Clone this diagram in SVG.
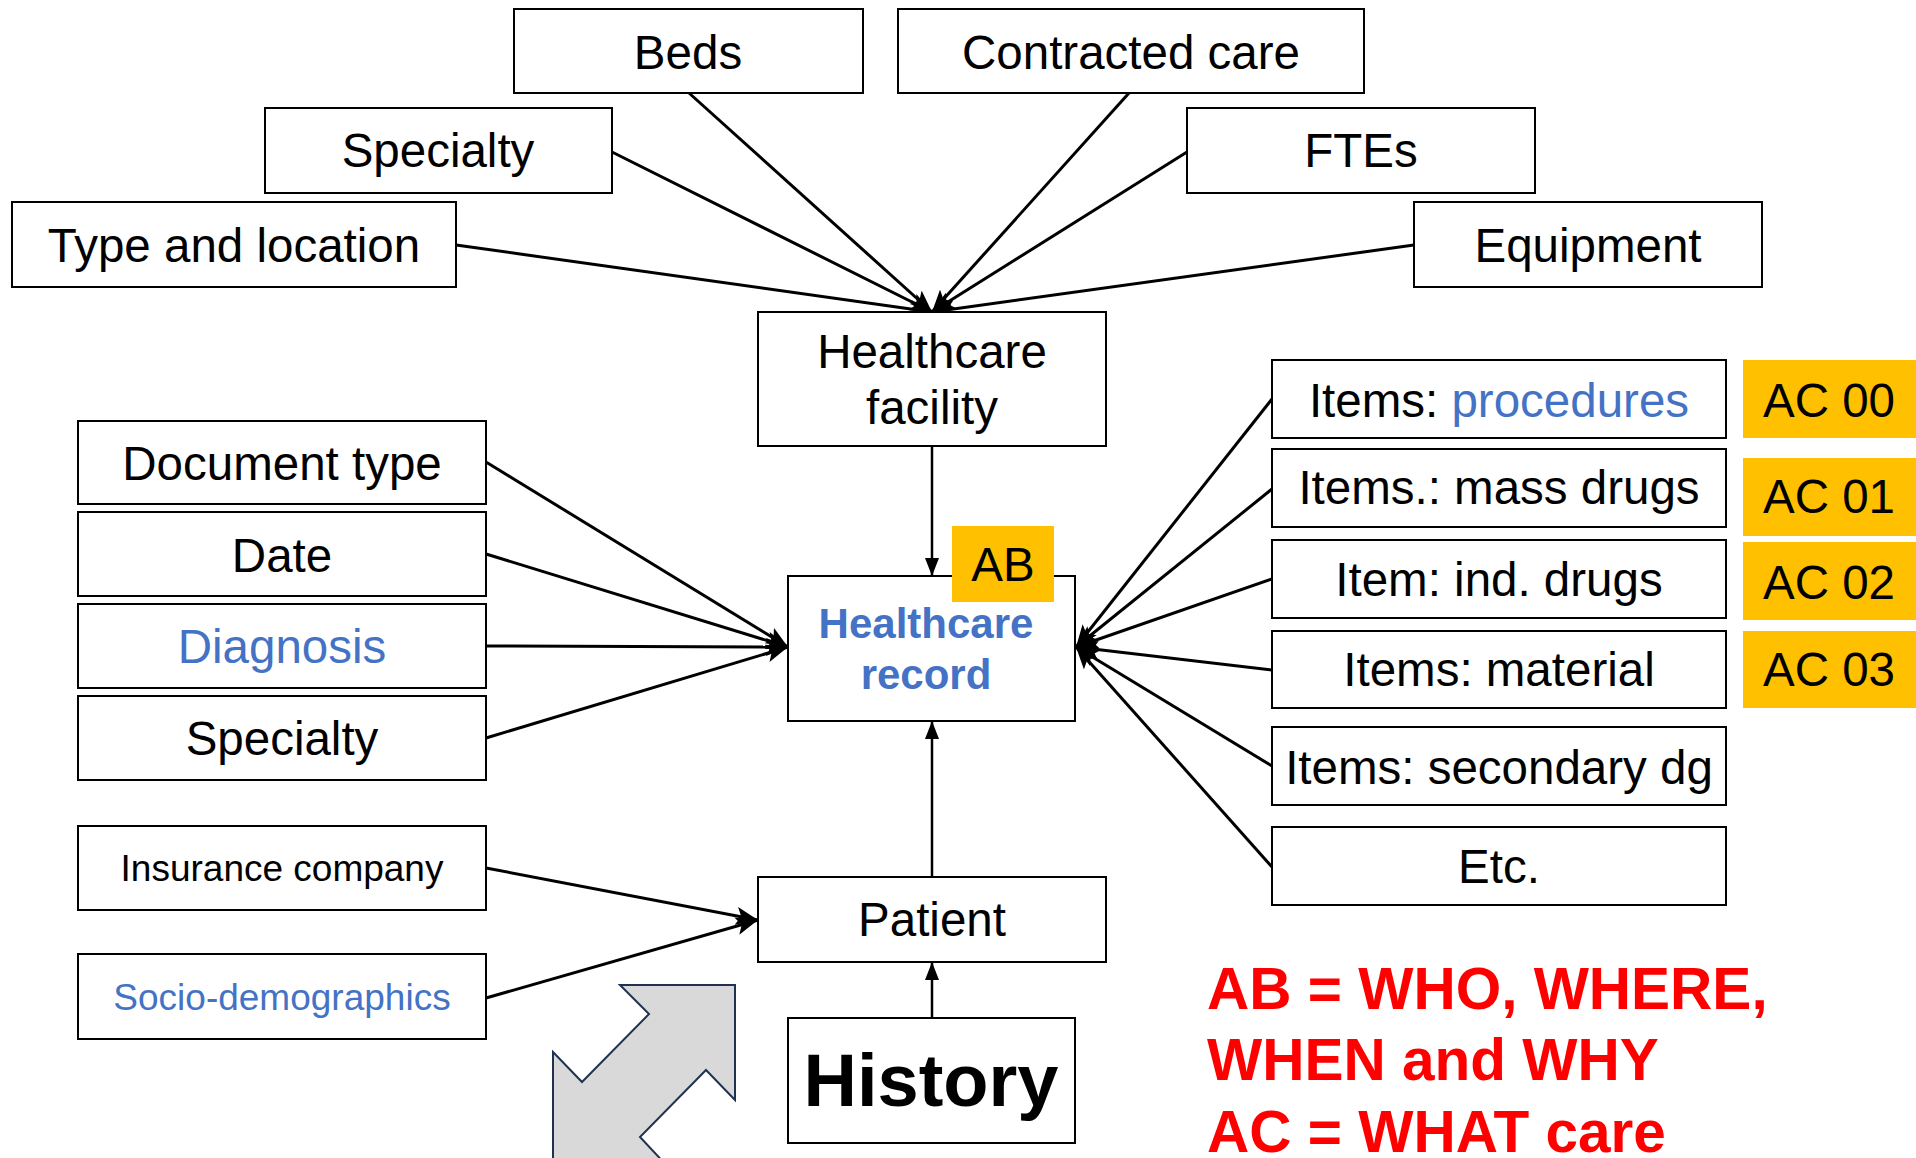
<svg xmlns="http://www.w3.org/2000/svg" width="1916" height="1158" viewBox="0 0 1916 1158">
<style>
.box{fill:#fff;stroke:#000;stroke-width:2}
.t{font-family:"Liberation Sans",Arial,sans-serif;font-size:47.5px;fill:#000;text-anchor:middle}
.s{font-size:37px}
.blue{fill:#4472c4}
.bold{font-weight:bold}
.ac{fill:#ffc000}
.red{font-family:"Liberation Sans",Arial,sans-serif;font-size:58.5px;font-weight:bold;fill:#ff0000}
.c{stroke:#000;stroke-width:3;fill:none;marker-end:url(#ah)}
.v{stroke:#000;stroke-width:2.5;fill:none;marker-end:url(#ahs)}
</style>
<defs>
<marker id="ah" markerUnits="userSpaceOnUse" markerWidth="24" markerHeight="18" viewBox="0 0 24 18" refX="22" refY="9" orient="auto">
<path d="M0,0 L22,9 L0,18 L5,9 Z" fill="#000"/>
</marker>
<marker id="ahs" markerUnits="userSpaceOnUse" markerWidth="20" markerHeight="14" viewBox="0 0 20 14" refX="18" refY="7" orient="auto">
<path d="M0,0 L18,7 L0,14 Z" fill="#000"/>
</marker>
</defs>

<g id="connectors">
<line class="c" x1="456" y1="245" x2="932" y2="312"/>
<line class="c" x1="612" y1="152" x2="932" y2="312"/>
<line class="c" x1="689" y1="93" x2="932" y2="312"/>
<line class="c" x1="1129" y1="93" x2="932" y2="312"/>
<line class="c" x1="1187" y1="152" x2="932" y2="312"/>
<line class="c" x1="1414" y1="245" x2="932" y2="312"/>
<line class="v" x1="932" y1="446" x2="932" y2="576"/>
<line class="c" x1="486" y1="462" x2="788" y2="647"/>
<line class="c" x1="486" y1="554" x2="788" y2="647"/>
<line class="c" x1="486" y1="646" x2="788" y2="647"/>
<line class="c" x1="486" y1="738" x2="788" y2="647"/>
<line class="c" x1="1272" y1="399" x2="1076" y2="647"/>
<line class="c" x1="1272" y1="489" x2="1076" y2="647"/>
<line class="c" x1="1272" y1="579" x2="1076" y2="647"/>
<line class="c" x1="1272" y1="670" x2="1076" y2="647"/>
<line class="c" x1="1272" y1="766" x2="1076" y2="647"/>
<line class="c" x1="1272" y1="867" x2="1076" y2="647"/>
<line class="c" x1="486" y1="868" x2="758" y2="920"/>
<line class="c" x1="486" y1="998" x2="758" y2="920"/>
<line class="v" x1="932" y1="877" x2="932" y2="721"/>
<line class="v" x1="932" y1="1018" x2="932" y2="962"/>
</g>

<g id="beds"><rect class="box" x="514" y="9" width="349" height="84"/><text class="t" x="688" y="69">Beds</text></g>
<g id="contracted-care"><rect class="box" x="898" y="9" width="466" height="84"/><text class="t" x="1131" y="69">Contracted care</text></g>
<g id="specialty-top"><rect class="box" x="265" y="108" width="347" height="85"/><text class="t" x="438" y="167">Specialty</text></g>
<g id="ftes"><rect class="box" x="1187" y="108" width="348" height="85"/><text class="t" x="1361" y="167">FTEs</text></g>
<g id="type-location"><rect class="box" x="12" y="202" width="444" height="85"/><text class="t" x="234" y="262">Type and location</text></g>
<g id="equipment"><rect class="box" x="1414" y="202" width="348" height="85"/><text class="t" x="1588" y="262">Equipment</text></g>

<g id="healthcare-facility"><rect class="box" x="758" y="312" width="348" height="134"/><text class="t" x="932" y="368">Healthcare</text><text class="t" x="932" y="424">facility</text></g>

<g id="healthcare-record"><rect class="box" x="788" y="576" width="287" height="145"/><text class="t bold blue" style="font-size:42px" x="926" y="638">Healthcare</text><text class="t bold blue" style="font-size:42px" x="926" y="689">record</text></g>
<g id="ab"><rect class="ac" x="952" y="526" width="102" height="76"/><text class="t" x="1003" y="581">AB</text></g>

<g id="document-type"><rect class="box" x="78" y="421" width="408" height="83"/><text class="t" x="282" y="480">Document type</text></g>
<g id="date"><rect class="box" x="78" y="512" width="408" height="84"/><text class="t" x="282" y="572">Date</text></g>
<g id="diagnosis"><rect class="box" x="78" y="604" width="408" height="84"/><text class="t blue" x="282" y="663">Diagnosis</text></g>
<g id="specialty"><rect class="box" x="78" y="696" width="408" height="84"/><text class="t" x="282" y="755">Specialty</text></g>

<g id="insurance"><rect class="box" x="78" y="826" width="408" height="84"/><text class="t s" x="282" y="881">Insurance company</text></g>
<g id="socio"><rect class="box" x="78" y="954" width="408" height="85"/><text class="t s blue" x="282" y="1010">Socio-demographics</text></g>

<g id="patient"><rect class="box" x="758" y="877" width="348" height="85"/><text class="t" x="932" y="936">Patient</text></g>
<g id="history"><rect class="box" x="788" y="1018" width="287" height="125"/><text class="t bold" style="font-size:74px" x="931" y="1106">History</text></g>

<g id="items-procedures"><rect class="box" x="1272" y="360" width="454" height="78"/><text class="t" x="1499" y="417">Items: <tspan class="blue">procedures</tspan></text></g>
<g id="items-mass"><rect class="box" x="1272" y="449" width="454" height="78"/><text class="t" x="1499" y="504">Items.: mass drugs</text></g>
<g id="items-ind"><rect class="box" x="1272" y="540" width="454" height="78"/><text class="t" x="1499" y="596">Item: ind. drugs</text></g>
<g id="items-material"><rect class="box" x="1272" y="631" width="454" height="77"/><text class="t" x="1499" y="686">Items: material</text></g>
<g id="items-secondary"><rect class="box" x="1272" y="727" width="454" height="78"/><text class="t" x="1499" y="784">Items: secondary dg</text></g>
<g id="items-etc"><rect class="box" x="1272" y="827" width="454" height="78"/><text class="t" x="1499" y="883">Etc.</text></g>

<g id="ac00"><rect class="ac" x="1743" y="360" width="173" height="78"/><text class="t" x="1829" y="417">AC 00</text></g>
<g id="ac01"><rect class="ac" x="1743" y="458" width="173" height="78"/><text class="t" x="1829" y="513">AC 01</text></g>
<g id="ac02"><rect class="ac" x="1743" y="542" width="173" height="78"/><text class="t" x="1829" y="599">AC 02</text></g>
<g id="ac03"><rect class="ac" x="1743" y="631" width="173" height="77"/><text class="t" x="1829" y="686">AC 03</text></g>

<polygon points="620,985 735,985 735,1100 706,1070 640,1137 668,1167 553,1167 553,1052 582,1082 649,1014" fill="#d9d9d9" stroke="#1f3350" stroke-width="2"/>

<g id="legend">
<text class="red" x="1207" y="1009">AB = WHO, WHERE,</text>
<text class="red" x="1207" y="1080">WHEN and WHY</text>
<text class="red" x="1207" y="1152">AC = WHAT care</text>
</g>
</svg>
